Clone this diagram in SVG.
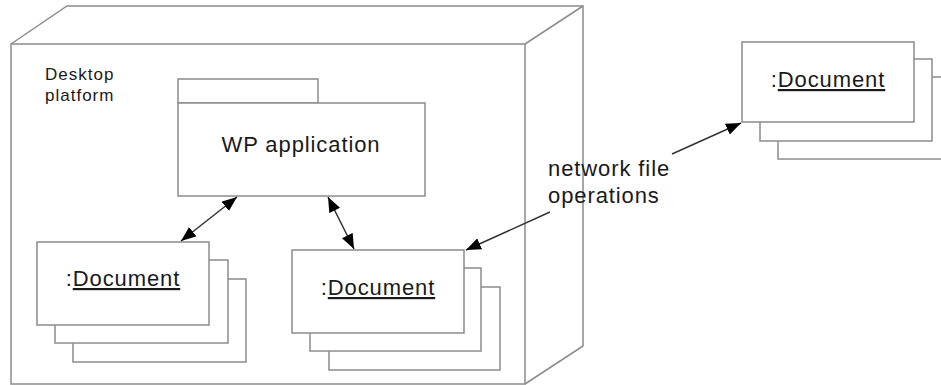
<svg xmlns="http://www.w3.org/2000/svg" width="941" height="385" viewBox="0 0 941 385">
<style>
.box{fill:#fff;stroke:#8c8c8c;stroke-width:1.5}
.edge{fill:none;stroke:#8c8c8c;stroke-width:1.5}
.lbl{font-family:"Liberation Sans",Arial,sans-serif;font-size:22px;fill:#1a1a1a;letter-spacing:0.9px}
.small{font-size:17px;letter-spacing:1px}
.ul{text-decoration:underline}
.conn{fill:none;stroke:#333;stroke-width:1.5}
</style>
<defs>
<marker id="ah" markerUnits="userSpaceOnUse" markerWidth="16" markerHeight="12" refX="15" refY="6" orient="auto-start-reverse">
<path d="M0,0 L15,6 L0,12 z" fill="#000"/>
</marker>
</defs>
<g id="desktop-platform">
<path class="edge" d="M11,44 L67,6 L583,6 L583,346 L525,384"/>
<path class="edge" d="M525,44 L583,6"/>
<rect class="box" x="11" y="44" width="514" height="340" fill="none"/>
<text class="lbl small" x="45" y="80">Desktop</text>
<text class="lbl small" x="45" y="101">platform</text>
</g>
<g id="wp-application">
<rect class="box" x="178" y="79" width="140" height="24"/>
<rect class="box" x="178" y="103" width="247" height="93"/>
<text class="lbl" x="301" y="152" text-anchor="middle">WP application</text>
</g>
<g id="document-left">
<rect class="box" x="73" y="279" width="173" height="83"/>
<rect class="box" x="55" y="260" width="173" height="83"/>
<rect class="box" x="37" y="242" width="172" height="83"/>
<text class="lbl" x="123" y="286" text-anchor="middle">:<tspan class="ul">Document</tspan></text>
</g>
<g id="document-middle">
<rect class="box" x="329" y="287" width="171" height="83"/>
<rect class="box" x="310" y="268" width="171" height="83"/>
<rect class="box" x="292" y="250" width="172" height="83"/>
<text class="lbl" x="378" y="295" text-anchor="middle">:<tspan class="ul">Document</tspan></text>
</g>
<g id="document-remote">
<rect class="box" x="778" y="77" width="172" height="82"/>
<rect class="box" x="760" y="59" width="172" height="82"/>
<rect class="box" x="742" y="42" width="172" height="80"/>
<text class="lbl" x="828" y="87" text-anchor="middle">:<tspan class="ul">Document</tspan></text>
</g>
<g id="connectors">
<line class="conn" x1="237" y1="197" x2="181" y2="241" marker-start="url(#ah)" marker-end="url(#ah)"/>
<line class="conn" x1="328" y1="197" x2="354" y2="249" marker-start="url(#ah)" marker-end="url(#ah)"/>
<line class="conn" x1="550" y1="212" x2="466" y2="250" marker-end="url(#ah)"/>
<line class="conn" x1="672" y1="154" x2="741" y2="123" marker-end="url(#ah)"/>
<text class="lbl" x="548" y="176">network file</text>
<text class="lbl" x="548" y="203">operations</text>
</g>
</svg>
